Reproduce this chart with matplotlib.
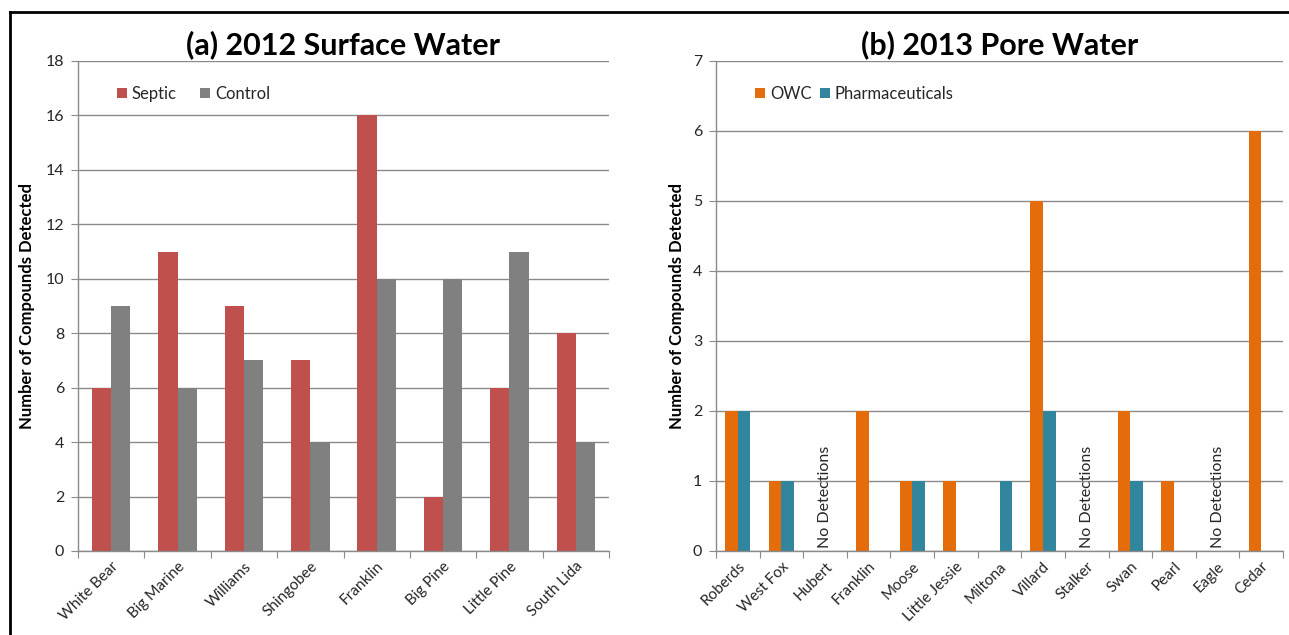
import matplotlib
matplotlib.use("Agg")
import matplotlib.pyplot as plt
from matplotlib.lines import Line2D
import numpy as np

# ---- data -------------------------------------------------------------
sites_a = ['White Bear', 'Big Marine', 'Williams', 'Shingobee',
           'Franklin', 'Big Pine', 'Little Pine', 'South Lida']
septic = [6, 11, 9, 7, 16, 2, 6, 8]
control = [9, 6, 7, 4, 10, 10, 11, 4]

sites_b = ['Roberds', 'West Fox', 'Hubert', 'Franklin', 'Moose',
           'Little Jessie', 'Miltona', 'Villard', 'Stalker', 'Swan',
           'Pearl', 'Eagle', 'Cedar']
owc = [2, 1, 0, 2, 1, 1, 0, 5, 0, 2, 1, 0, 6]
pharma = [2, 1, 0, 0, 1, 0, 1, 2, 0, 1, 0, 0, 0]
no_detect = ['Hubert', 'Stalker', 'Eagle']

# ---- style ------------------------------------------------------------
plt.rcParams['font.family'] = ['Lato', 'DejaVu Sans']
GRID = '#8a8a8a'
TXT = '#262626'
C_SEPTIC, C_CONTROL = '#C0504D', '#808080'
C_OWC, C_PHARMA = '#E46C0A', '#31859C'

fig = plt.figure(figsize=(12.89, 6.35), dpi=100)
W, H = 1289, 635


def px_axes(x0, x1, y0, y1):
    return fig.add_axes([x0 / W, 1 - y1 / H, (x1 - x0) / W, (y1 - y0) / H])


def style_axes(ax, n, labels, ymax, ystep, ylab_x):
    ax.set_xlim(0, n)
    ax.set_ylim(0, ymax)
    ax.set_yticks(np.arange(0, ymax + 0.01, ystep))
    ax.yaxis.grid(True, color=GRID, lw=1.0)
    ax.set_axisbelow(True)
    for s in ('top', 'right'):
        ax.spines[s].set_visible(False)
    for s in ('left', 'bottom'):
        ax.spines[s].set_color(GRID)
        ax.spines[s].set_linewidth(1.0)
    # category boundaries carry tick marks, centres carry the names
    ax.set_xticks(np.arange(0, n + 1))
    ax.set_xticklabels([])
    ax.set_xticks(np.arange(n) + 0.5, minor=True)
    ax.set_xticklabels(labels, minor=True, rotation=45, ha='right',
                       rotation_mode='anchor', fontsize=11, color=TXT)
    ax.tick_params(axis='x', which='major', direction='out', length=5,
                   color=GRID)
    ax.tick_params(axis='x', which='minor', length=0, pad=6)
    ax.tick_params(axis='y', direction='out', length=5, color=GRID,
                   labelsize=11.5, labelcolor=TXT, pad=5)
    ax.set_ylabel('Number of Compounds Detected', fontsize=12,
                  fontweight='bold', color='black', va='center')
    ax.yaxis.set_label_coords(ylab_x, 0.5)


# ---- (a) surface water -------------------------------------------------
ax1 = px_axes(78, 609, 61, 551)
xa = np.arange(len(sites_a)) + 0.5
bw_a = 0.29
ax1.bar(xa - bw_a / 2, septic, bw_a, color=C_SEPTIC, label='Septic')
ax1.bar(xa + bw_a / 2, control, bw_a, color=C_CONTROL, label='Control')
style_axes(ax1, len(sites_a), sites_a, 18, 2, (27 - 78) / 531)
ax1.set_title('(a) 2012 Surface Water', fontsize=22, fontweight='bold',
              pad=5)
ax1.legend(loc='center left', bbox_to_anchor=(0.045, 0.933), ncol=2,
           frameon=False, fontsize=12, handlelength=0.6,
           handleheight=0.6, handletextpad=0.3, columnspacing=1.4,
           labelcolor=TXT)

# ---- (b) pore water ----------------------------------------------------
ax2 = px_axes(716, 1283, 61, 551)
xb = np.arange(len(sites_b)) + 0.5
bw_b = 0.29
ax2.bar(xb - bw_b / 2, owc, bw_b, color=C_OWC, label='OWC')
ax2.bar(xb + bw_b / 2, pharma, bw_b, color=C_PHARMA, label='Pharmaceuticals')
style_axes(ax2, len(sites_b), sites_b, 7, 1, (677 - 716) / 567)
ax2.set_title('(b) 2013 Pore Water', fontsize=22, fontweight='bold', pad=5)
ax2.legend(loc='center left', bbox_to_anchor=(0.042, 0.933), ncol=2,
           frameon=False, fontsize=12, handlelength=0.6,
           handleheight=0.6, handletextpad=0.3, columnspacing=0.5,
           labelcolor=TXT)
for site in no_detect:
    i = sites_b.index(site)
    ax2.text(xb[i], 0.05, 'No Detections', rotation=90, ha='center',
             va='bottom', fontsize=11.5, color=TXT)

# ---- outer frame (top and left edges) ----------------------------------
fig.add_artist(Line2D([10 / W, 1], [1 - 12 / H, 1 - 12 / H],
                      transform=fig.transFigure, color='black', lw=2))
fig.add_artist(Line2D([10 / W, 10 / W], [0, 1 - 12 / H],
                      transform=fig.transFigure, color='black', lw=2))

fig.savefig('out.png', dpi=100)
